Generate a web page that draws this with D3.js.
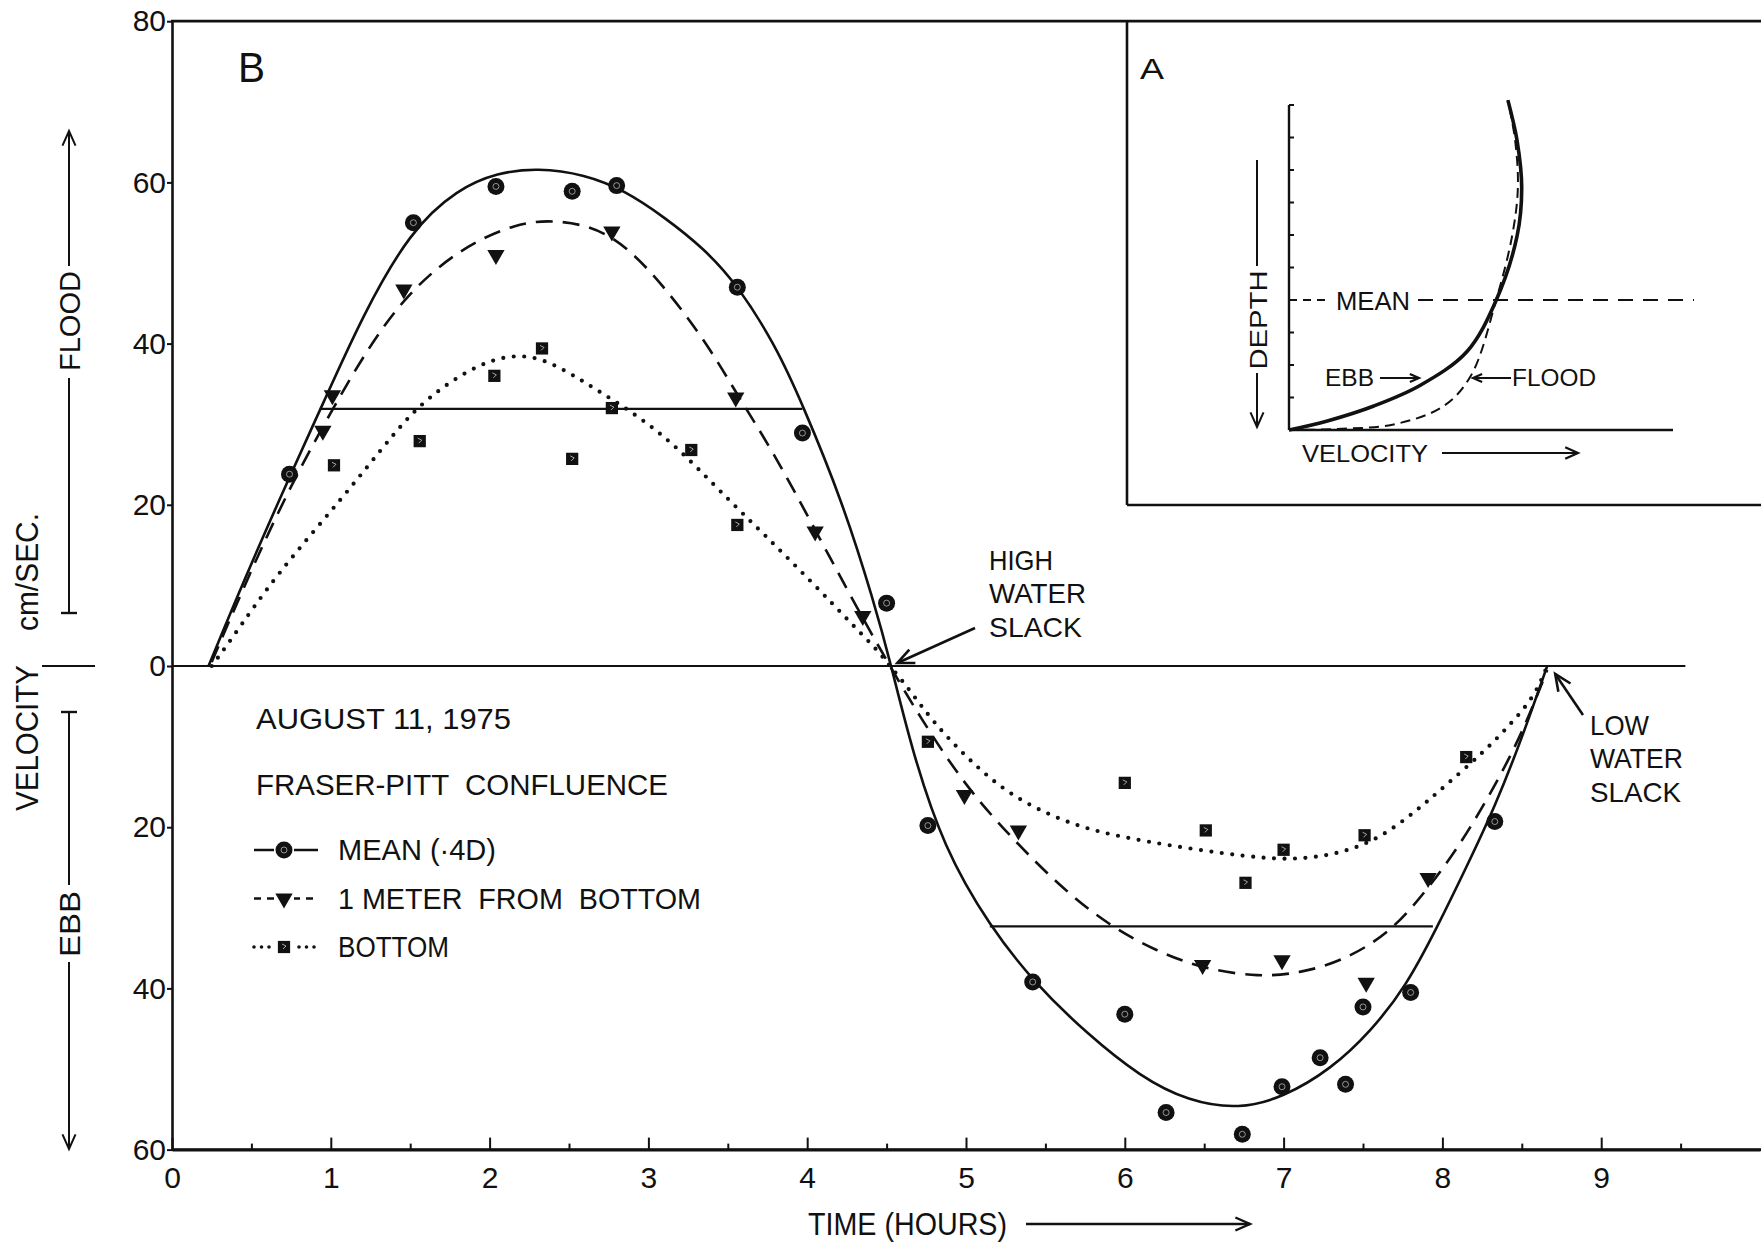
<!DOCTYPE html>
<html>
<head>
<meta charset="utf-8">
<script src="https://cdn.jsdelivr.net/npm/d3@7"></script>
<style>
  body { margin: 0; background: #fff; }
  svg text { fill: #111; white-space: pre; }
</style>
</head>
<body>
<svg id="chart"></svg>
<script>
// ---- data (hours, cm/sec; ebb is negative) ----
const hours = [0, 1, 2, 3, 4, 5, 6, 7, 8, 9];
const halfHours = [0.5, 1.5, 2.5, 3.5, 4.5, 5.5, 6.5, 7.5, 8.5, 9.5];
const velocityTicks = [-60, -40, -20, 0, 20, 40, 60, 80];

// observations
const meanObs = [[0.74, 23.8], [1.52, 55], [2.04, 59.5], [2.52, 58.9], [2.80, 59.6], [3.56, 47], [3.97, 28.9],
  [4.50, 7.8], [4.76, -19.8], [5.42, -39.2], [6.00, -43.2], [6.26, -55.4], [6.74, -58.1], [6.99, -52.2],
  [7.23, -48.6], [7.39, -51.9], [7.50, -42.3], [7.80, -40.5], [8.33, -19.3]];
const meterObs = [[0.95, 29.2], [1.01, 33.6], [1.46, 46.7], [2.04, 51], [2.77, 53.9], [3.55, 33.3], [4.05, 16.7],
  [4.35, 6.2], [4.99, -16], [5.33, -20.4], [6.49, -37.1], [6.99, -36.5], [7.52, -39.3], [7.91, -26.3]];
const bottomObs = [[1.02, 24.9], [1.56, 27.9], [2.03, 36], [2.33, 39.4], [2.52, 25.7], [2.77, 32], [3.27, 26.8],
  [3.56, 17.5], [4.76, -9.4], [6.00, -14.5], [6.51, -20.4], [6.76, -26.9], [7.00, -22.8], [7.51, -21], [8.15, -11.3]];

// hand-fitted curves (knots of a smooth spline)
const meanFit = [[0.23, 0], [0.45, 10.5], [0.74, 23.5], [0.95, 32.5], [1.2, 43.5], [1.5, 54], [1.8, 59.2],
  [2.05, 61.2], [2.3, 61.8], [2.6, 61], [2.85, 59], [3.1, 55.7], [3.35, 51.8], [3.56, 47.3], [3.8, 39.8],
  [3.97, 32.5], [4.22, 20.5], [4.42, 8], [4.53, 0], [4.66, -10.5], [4.86, -22.6], [5.15, -32.3], [5.43, -39.3],
  [5.76, -45.6], [6.1, -51], [6.4, -54], [6.72, -55], [7.0, -53.5], [7.3, -50], [7.55, -45.3], [7.77, -39.8],
  [7.97, -32.3], [8.15, -25], [8.33, -17.5], [8.5, -9], [8.66, 0]];
const meterFit = [[0.25, 0.5], [0.5, 12], [0.75, 22.5], [1.0, 31.5], [1.22, 39], [1.47, 46], [1.81, 51.8],
  [2.17, 55], [2.43, 55.4], [2.77, 54], [3.1, 47.2], [3.39, 39.4], [3.56, 33.6], [3.78, 26.8], [4.05, 16.9],
  [4.33, 6.6], [4.52, 0], [4.7, -6], [4.99, -14.8], [5.3, -21.6], [5.6, -27.5], [5.9, -32.2], [6.2, -35.4],
  [6.5, -37.6], [6.85, -38.6], [7.1, -38.1], [7.36, -36.7], [7.67, -33.2], [7.91, -27.6], [8.1, -22.5],
  [8.3, -16], [8.5, -8.5], [8.66, -0.5]];
const bottomFit = [[0.25, 0], [0.36, 2.9], [0.65, 11.2], [1.09, 21.2], [1.41, 29.2], [1.6, 33.2], [1.94, 37.8],
  [2.25, 39], [2.51, 36.3], [2.68, 34.2], [2.96, 30.7], [3.2, 26.8], [3.45, 21.7], [3.73, 16.3], [4.03, 10.4],
  [4.31, 4.6], [4.45, 1.8], [4.52, 0], [4.62, -2.3], [4.79, -6.9], [5.01, -11.5], [5.27, -16], [5.61, -19.3],
  [5.91, -21], [6.38, -22.6], [6.9, -24], [7.16, -23.9], [7.40, -23], [7.62, -21.2], [7.84, -17.9],
  [8.01, -15], [8.27, -10.5], [8.43, -7.2], [8.58, -3.8], [8.66, 0]];

// mean flood / ebb velocity levels [from, to, velocity]
const meanLevels = [[0.93, 3.97, 31.9], [5.15, 7.94, -32.3]];
const zeroLineEnd = 9.53;
const highSlack = 4.53;
const lowSlack = 8.66;

// inset A: velocity profiles [relative velocity, height above bed in tick units]
const depthTicks = [1, 2, 3, 4, 5, 6, 7, 8, 9, 10];
const ebbProfile = [[0, 0], [0.1, 0.28], [0.221, 0.74], [0.341, 1.37], [0.463, 2.41], [0.539, 3.98],
  [0.594, 5.97], [0.606, 7.45], [0.594, 8.9], [0.57, 10.15]];
const floodProfile = [[0, 0], [0.122, 0.03], [0.276, 0.18], [0.403, 0.74], [0.474, 1.68], [0.539, 3.98],
  [0.581, 5.97], [0.596, 7.45], [0.589, 8.9], [0.57, 10.15]];
const meanDepth = 4.0;

const W = 1761, H = 1243;
const FONT = "'Liberation Sans', Arial, 'DejaVu Sans', sans-serif";
const INK = '#111';

const svg = d3.select('#chart').attr('width', W).attr('height', H)
  .style('font-family', FONT);

const x = d3.scaleLinear().domain([0, 10]).range([172, 1760]);
const y = d3.scaleLinear().domain([-60, 80]).range([1149.6, 21.2]);

// ---- axes ----
const yAxis = svg.append('g')
  .attr('transform', `translate(${x(0)},0)`)
  .call(d3.axisLeft(y).tickValues(velocityTicks).tickFormat(d => Math.abs(d))
    .tickSizeInner(5).tickSizeOuter(0).tickPadding(1))
  .attr('font-size', 30).attr('font-family', FONT);
yAxis.select('.domain').attr('stroke', INK).attr('stroke-width', 2.6);
yAxis.selectAll('.tick line').attr('stroke', INK).attr('stroke-width', 2);
yAxis.selectAll('.tick text').attr('fill', INK);

const xAxis = svg.append('g')
  .attr('transform', `translate(0,${y(-60)})`)
  .call(d3.axisBottom(x).tickValues(hours).tickFormat(d3.format('d'))
    .tickSizeInner(-12).tickSizeOuter(0).tickPadding(17))
  .attr('font-size', 30).attr('font-family', FONT);
xAxis.select('.domain').attr('stroke', INK).attr('stroke-width', 2.8);
xAxis.selectAll('.tick line').attr('stroke', INK).attr('stroke-width', 2);
xAxis.selectAll('.tick text').attr('fill', INK);

const xMinor = svg.append('g')
  .attr('transform', `translate(0,${y(-60)})`)
  .call(d3.axisBottom(x).tickValues(halfHours).tickFormat('').tickSizeInner(-6).tickSizeOuter(0));
xMinor.select('.domain').remove();
xMinor.selectAll('.tick line').attr('stroke', INK).attr('stroke-width', 2);

// extend bottom axis and top frame to the right edge
svg.append('line').attr('x1', x(0)).attr('x2', W).attr('y1', y(-60)).attr('y2', y(-60))
  .attr('stroke', INK).attr('stroke-width', 2.8);
svg.append('line').attr('x1', x(0) - 1).attr('x2', W).attr('y1', y(80)).attr('y2', y(80))
  .attr('stroke', INK).attr('stroke-width', 2.8);

// zero line
svg.append('line').attr('x1', x(0)).attr('x2', x(zeroLineEnd)).attr('y1', y(0)).attr('y2', y(0))
  .attr('stroke', INK).attr('stroke-width', 2.2);

// mean velocity levels
svg.selectAll('line.level').data(meanLevels).join('line')
  .attr('class', 'level')
  .attr('x1', d => x(d[0])).attr('x2', d => x(d[1]))
  .attr('y1', d => y(d[2])).attr('y2', d => y(d[2]))
  .attr('stroke', INK).attr('stroke-width', 2.4);

// ---- fitted curves ----
const line = d3.line().x(d => x(d[0])).y(d => y(d[1])).curve(d3.curveBasis);
svg.append('path').attr('d', line(meanFit)).attr('fill', 'none')
  .attr('stroke', INK).attr('stroke-width', 2.6);
svg.append('path').attr('d', line(meterFit)).attr('fill', 'none')
  .attr('stroke', INK).attr('stroke-width', 2.6).attr('stroke-dasharray', '17 10');
svg.append('path').attr('d', line(bottomFit)).attr('fill', 'none')
  .attr('stroke', INK).attr('stroke-width', 4.2).attr('stroke-linecap', 'round')
  .attr('stroke-dasharray', '0 10.5');

// ---- markers ----
function circleMark(g) {
  g.append('circle').attr('r', 8.5).attr('fill', INK);
  g.append('circle').attr('r', 3).attr('fill', 'none').attr('stroke', '#fff')
    .attr('stroke-width', 0.9).attr('stroke-opacity', 0.6);
}
function triMark(g) {
  g.append('path').attr('d', d3.symbol(d3.symbolTriangle, 130)()).attr('transform', 'rotate(180)')
    .attr('fill', INK);
}
function squareMark(g) {
  g.append('path').attr('d', d3.symbol(d3.symbolSquare, 150)()).attr('fill', INK);
  g.append('path').attr('d', 'M-2,-3 L2,-1 L-1,2').attr('fill', 'none').attr('stroke', '#fff')
    .attr('stroke-width', 0.9).attr('stroke-opacity', 0.7);
}

function plotMarks(data, cls, draw) {
  svg.selectAll('g.' + cls).data(data).join('g')
    .attr('class', cls)
    .attr('transform', d => `translate(${x(d[0])},${y(d[1])})`)
    .each(function () { draw(d3.select(this)); });
}
plotMarks(meanObs, 'mean', circleMark);
plotMarks(meterObs, 'meter', triMark);
plotMarks(bottomObs, 'bottom', squareMark);

// ---- text helpers ----
function label(txt, x0, yb, size, len, anchor) {
  const t = svg.append('text').attr('x', x0).attr('y', yb).attr('font-size', size).text(txt);
  if (len) t.attr('textLength', len).attr('lengthAdjust', 'spacingAndGlyphs');
  if (anchor) t.attr('text-anchor', anchor);
  return t;
}
function vlabel(txt, bx, cy, size, len) {
  svg.append('text').attr('transform', `translate(${bx},${cy}) rotate(-90)`)
    .attr('text-anchor', 'middle').attr('font-size', size)
    .attr('textLength', len).attr('lengthAdjust', 'spacingAndGlyphs').text(txt);
}
function seg(x1, y1, x2, y2, w) {
  svg.append('line').attr('x1', x1).attr('y1', y1).attr('x2', x2).attr('y2', y2)
    .attr('stroke', INK).attr('stroke-width', w || 2);
}
function arrow(x1, y1, x2, y2, w, head) {
  seg(x1, y1, x2, y2, w);
  const a = Math.atan2(y2 - y1, x2 - x1), h = head || 14, s = 0.42;
  const p1 = [x2 - h * Math.cos(a - s), y2 - h * Math.sin(a - s)];
  const p2 = [x2 - h * Math.cos(a + s), y2 - h * Math.sin(a + s)];
  svg.append('path').attr('d', `M${p1}L${x2},${y2}L${p2}`).attr('fill', 'none')
    .attr('stroke', INK).attr('stroke-width', w || 2).attr('stroke-linejoin', 'miter');
}

// panel letter
label('B', 238, 82, 42, 27);

// left axis title and flood / ebb arrows
vlabel('VELOCITY', 38, 738, 31, 146);
vlabel('cm/SEC.', 38, 572, 31, 118);
seg(42, y(0), 95, y(0), 2.2);

const ax = 69;
arrow(ax, 266, ax, 131, 2, 16);
seg(ax, 378, ax, 613, 2);
seg(61, 613, 77, 613, 2.4);
vlabel('FLOOD', 80, 321, 30, 100);

seg(ax, 712, ax, 885, 2);
seg(61, 712, 77, 712, 2.4);
arrow(ax, 962, ax, 1149, 2, 16);
vlabel('EBB', 80, 924, 30, 66);

// x axis title
label('TIME (HOURS)', 808, 1235, 31, 199);
arrow(1026, 1224, 1250, 1224, 2.4, 16);

// annotations
label('HIGH', 989, 570, 28, 64);
label('WATER', 989, 603, 28, 97);
label('SLACK', 989, 637, 28, 93);
arrow(975, 628, x(highSlack) + 6, y(0) - 3, 2.6, 18);

label('LOW', 1590, 735, 28, 59);
label('WATER', 1590, 768, 28, 93);
label('SLACK', 1590, 802, 28, 91);
arrow(1583, 715, x(lowSlack) + 8, y(0) + 8, 2.6, 18);

// caption and legend
label('AUGUST 11, 1975', 256, 729, 30, 255);
label('FRASER-PITT  CONFLUENCE', 256, 795, 30, 412);

const legendRows = [
  { name: 'MEAN (·4D)', len: 158, draw: circleMark, dash: null, w: 2.5 },
  { name: '1 METER  FROM  BOTTOM', len: 363, draw: triMark, dash: '7 6', w: 2.5 },
  { name: 'BOTTOM', len: 111, draw: squareMark, dash: '0 7.5', w: 3.6 }
];
legendRows.forEach((r, i) => {
  const ly = 850 + i * 48.5;
  const l = svg.append('line').attr('x1', 254).attr('x2', 318).attr('y1', ly).attr('y2', ly)
    .attr('stroke', INK).attr('stroke-width', r.w);
  if (r.dash) l.attr('stroke-dasharray', r.dash).attr('stroke-linecap', r.dash.startsWith('0') ? 'round' : 'butt');
  const g = svg.append('g').attr('transform', `translate(284,${ly})`);
  g.append('rect').attr('x', -10).attr('y', -10).attr('width', 20).attr('height', 20).attr('fill', '#fff');
  r.draw(g);
  label(r.name, 338, ly + 10, 30, r.len);
});

// ---- inset A ----
seg(1127, y(80), 1127, 505, 2.6);
seg(1127, 505, W, 505, 2.6);
label('A', 1140, 79, 30, 24);

const vx = d3.scaleLinear().domain([0, 1]).range([1289, 1673]);
const dh = d3.scaleLinear().domain([0, 10]).range([430, 105]);

seg(vx(0), dh(10), vx(0), dh(0), 2.4);
seg(vx(0), dh(0), vx(1), dh(0), 2.4);
svg.selectAll('line.dtick').data(depthTicks).join('line')
  .attr('class', 'dtick')
  .attr('x1', vx(0)).attr('x2', vx(0) + 5)
  .attr('y1', d => dh(d)).attr('y2', d => dh(d))
  .attr('stroke', INK).attr('stroke-width', 2);

const prof = d3.line().x(d => vx(d[0])).y(d => dh(d[1])).curve(d3.curveCatmullRom.alpha(0.5));
svg.append('path').attr('d', prof(floodProfile)).attr('fill', 'none')
  .attr('stroke', INK).attr('stroke-width', 2).attr('stroke-dasharray', '10 6');
svg.append('path').attr('d', prof(ebbProfile)).attr('fill', 'none')
  .attr('stroke', INK).attr('stroke-width', 3.6);

// mean depth line with label
svg.append('line').attr('x1', vx(0)).attr('x2', 1330).attr('y1', dh(meanDepth)).attr('y2', dh(meanDepth))
  .attr('stroke', INK).attr('stroke-width', 2).attr('stroke-dasharray', '8 6');
svg.append('line').attr('x1', 1418).attr('x2', 1694).attr('y1', dh(meanDepth)).attr('y2', dh(meanDepth))
  .attr('stroke', INK).attr('stroke-width', 2).attr('stroke-dasharray', '15 10');
label('MEAN', 1336, dh(meanDepth) + 10, 25, 74);

label('EBB', 1325, 386, 24, 49);
arrow(1380, 378, 1419, 378, 2.2, 10);
label('FLOOD', 1512, 386, 24, 84);
arrow(1511, 378, 1473, 378, 2.2, 10);

label('VELOCITY', 1302, 462, 24, 126);
arrow(1442, 453, 1578, 453, 2.2, 14);

vlabel('DEPTH', 1267, 320, 23, 99);
seg(1257, 160, 1257, 266, 2);
arrow(1257, 373, 1257, 427, 2, 16);
</script>
</body>
</html>
